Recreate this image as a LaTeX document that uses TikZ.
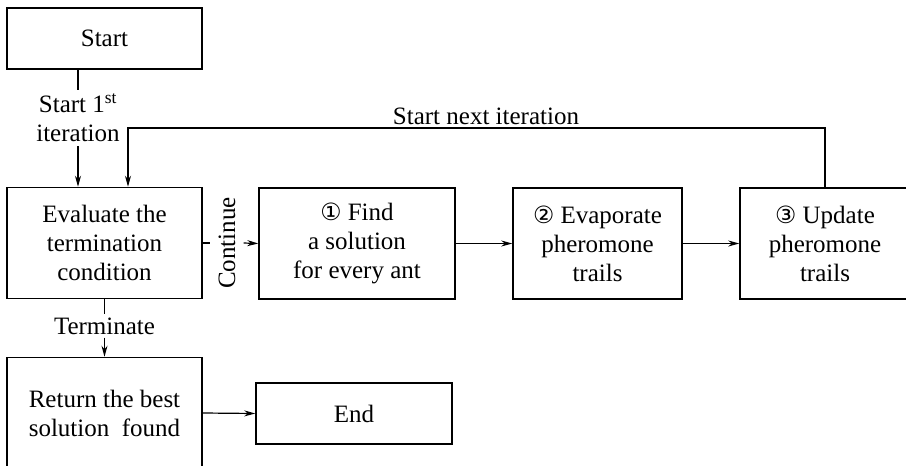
\documentclass[tikz,border=0pt]{standalone}
\usepackage{fontspec}
\setmainfont{Liberation Serif}
\newfontfamily\circfont{DejaVu Sans}[Scale=0.95]
\usetikzlibrary{arrows.meta}

\begin{document}
\begin{tikzpicture}[x=1pt, y=-1pt,
  txt/.style={font=\fontsize{25}{29}\selectfont, align=center},
  box/.style={txt, draw, line width=1.5pt, inner sep=0pt,
              minimum width=#1},
  tall/.style={minimum height=111pt},
  short/.style={minimum height=61pt},
  lbl/.style={txt, inner xsep=0pt, inner ysep=3pt},
  link/.style={line width=1.2pt},
  arr/.style={link, -{Stealth[length=11pt, width=6pt, inset=3.5pt]}}
]
\useasboundingbox (0,0) rectangle (906,466);
\clip (0,0) rectangle (906,466);

% process boxes
\node[box=195, short] (start) at (104.5,38.5) {Start};
\node[box=195, tall]  (eval)  at (104.5,243)  {Evaluate the\\termination\\condition};
\node[box=196, tall]  (find)  at (357,243.5)  {{\circfont ①} Find\\a solution\\for every ant};
\node[box=169, tall]  (evap)  at (597.5,243.5){{\circfont ②} Evaporate\\pheromone\\trails};
\node[box=170, tall]  (upd)   at (825,243.5)  {{\circfont ③} Update\\pheromone\\trails};
\node[box=195, tall]  (ret)   at (104.5,413)  {Return the best\\solution~ found};
\node[box=196, short] (end)   at (354,413.5)  {End};

% edge labels
\node[lbl, inner ysep=4pt] (first) at (78,118) {Start 1\textsuperscript{st}\\iteration};
\node[lbl] (term) at (104.5,326) {Terminate};
\node[lbl, rotate=90, inner xsep=0pt, inner ysep=8pt] (cont) at (227,243) {Continue};
\node[lbl, anchor=south, inner ysep=2pt] (next) at (486,127) {Start next iteration};

% connectors
\draw[link] (first.north |- start.south) -- (first.north);
\draw[arr]  (first.south) -- (first.south |- eval.north);

\draw[link] (eval.east) -- (cont.north);
\draw[arr]  (cont.south) -- (find.west);
\draw[arr]  (find.east) -- (evap.west);
\draw[arr]  (evap.east) -- (upd.west);

\coordinate (turn) at (128,128);
\draw[arr] (upd.north) |- (turn) -- (turn |- eval.north);

\draw[link] (eval.south) -- (term.north);
\draw[arr]  (term.south) -- (ret.north);
\draw[arr]  (ret.east) -- (end.west);
\end{tikzpicture}
\end{document}
